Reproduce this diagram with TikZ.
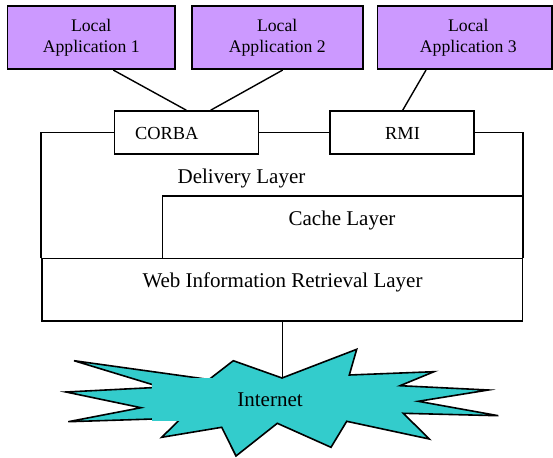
\documentclass[tikz,border=0pt]{standalone}
\usepackage{fontspec}
\setmainfont{Liberation Serif}
\definecolor{apppurple}{HTML}{CC99FF}
\definecolor{netcyan}{HTML}{33CCCC}
\begin{document}
\begin{tikzpicture}[x=1pt,y=-1pt,
  appbox/.style={draw, line width=1.6pt, fill=apppurple, minimum width=#1, minimum height=63.3pt,
    inner sep=0pt, align=center, font=\fontsize{17.7}{21}\selectfont},
  midbox/.style={draw, line width=1.6pt, fill=white, minimum width=144pt, minimum height=43pt, inner sep=0pt},
  layerbox/.style={draw, line width=1.6pt, minimum width=#1, inner sep=0pt},
  small/.style={font=\fontsize{18.4}{21}\selectfont, inner sep=0pt},
  big/.style={font=\fontsize{21}{24}\selectfont, inner sep=0pt},
  wire/.style={line width=1.4pt},
  thinwire/.style={line width=1pt}]
\useasboundingbox (0,0) rectangle (553,457);

% application boxes
\node[appbox=167.7pt] (app1) at (91.2,37.6) {Local\\Application 1};
\node[appbox=171pt]   (app2) at (277.2,37.6) {Local\\Application 2};
\node[appbox=174.3pt] (app3) at (464.8,37.6) {\hspace*{7pt}Local\\\hspace*{7pt}Application 3};

% middleware boxes
\node[midbox] (corba) at (186.3,132.5) {};
\node[small] (corbatext) at (166.7,133.3) {CORBA};
\node[midbox] (rmi) at (402,132.5) {};
\node[small] (rmitext) at (402.5,133.3) {RMI};

% layers
\node[layerbox=480.6pt, minimum height=62.7pt] (web) at (282,289.65) {};
\node[big] (webtext) at (282.5,282.7) {Web Information Retrieval Layer};
\node[layerbox=360pt, minimum height=62.3pt] (cache) at (342.3,227.15) {};
\node[big] (cachetext) at (342,220) {Cache Layer};
\node[big] (deliverytext) at (241.5,178.3) {Delivery Layer};

% delivery layer frame
\draw[wire] (corba.west) -| (web.north west);
\draw[wire] (rmi.east) -| (web.north east);
\draw[wire] (corba.east) -- (rmi.west);

% application links
\draw[wire] ([xshift=22.1pt]app1.south) -- (corba.north);
\draw[wire] ([xshift=5.5pt]app2.south) -- ([xshift=24.4pt]corba.north);
\draw[wire] ([xshift=-38.8pt]app3.south) -- ([xshift=0.7pt]rmi.north);

% internet cloud
\coordinate (nettop) at (282,378);
\draw[line width=1.6pt, line join=miter, fill=netcyan]
  (74,360.7) -- (209,379.5) -- (233.3,360.7) -- (nettop) -- (356.7,349.3)
  -- (349.3,375) -- (434,371.7) -- (400,385.7) -- (488.3,390) -- (418.3,401.3)
  -- (498.3,415.7) -- (403.3,413.3) -- (429.3,439) -- (346.7,421.3) -- (331,447.3)
  -- (277.3,423.3) -- (236,456) -- (221.7,427.3) -- (161.7,437.3) -- (181.3,418.1)
  -- (68.3,421.7) -- (141,407.7) -- (66,392) -- (161,387.2) -- cycle;
\fill[netcyan] (151.7,378.2) rectangle (213.3,420.6);
\node[big] (internet) at (270,400) {Internet};
\draw[thinwire] (web.south) -- (nettop);
\end{tikzpicture}
\end{document}
